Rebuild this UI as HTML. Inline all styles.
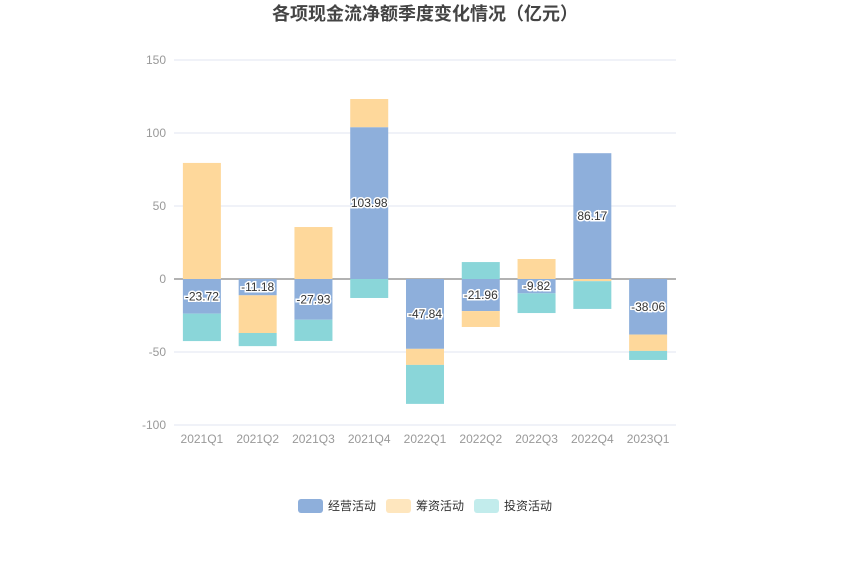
<!DOCTYPE html>
<html><head><meta charset="utf-8"><style>
body{margin:0;background:#fff;width:850px;height:576px;overflow:hidden;font-family:"Liberation Sans","Noto Sans CJK SC",sans-serif}
</style></head><body>
<svg id="chart" width="850" height="576" xmlns="http://www.w3.org/2000/svg" font-family="Liberation Sans, Noto Sans CJK SC, sans-serif">
<text x="425" y="20" text-anchor="middle" font-size="18" font-weight="bold" fill="#444">各项现金流净额季度变化情况（亿元）</text>
<g id="grid"></g><g id="bars"></g><g id="labels"></g>
<g id="legend"></g>
</svg>
<script>
const categories=["2021Q1","2021Q2","2021Q3","2021Q4","2022Q1","2022Q2","2022Q3","2022Q4","2023Q1"];
const operating=[-23.72,-11.18,-27.93,103.98,-47.84,-21.96,-9.82,86.17,-38.06];
const financing=[79.5,-25.8,35.6,19.3,-11,-10.9,13.7,-1.5,-11.2];
const investing=[-18.8,-9,-14.5,-13,-26.7,11.6,-13.5,-19,-6.2];
const yTicks=[150,100,50,0,-50,-100];
const seriesNames=["经营活动","筹资活动","投资活动"];
const colors=["#8eafdb","#fed89b","#8ad6d9"];
const legendColors=["#8eafdb","#fee6be","#c2ecec"];
const NS="http://www.w3.org/2000/svg";
const x0=174,x1=676,yTop=60,yBot=425,vMax=150,vMin=-100;
const y=v=>yTop+(vMax-v)/(vMax-vMin)*(yBot-yTop);
const band=(x1-x0)/categories.length;
const xc=i=>x0+band*(i+0.5);
function mk(tag,attrs,parent){const e=document.createElementNS(NS,tag);for(const k in attrs)e.setAttribute(k,attrs[k]);parent.appendChild(e);return e;}
const grid=document.getElementById('grid'),bars=document.getElementById('bars'),labels=document.getElementById('labels'),legend=document.getElementById('legend');
yTicks.forEach(t=>{
  const l=mk('line',{x1:x0,x2:x1,y1:y(t),y2:y(t),stroke:t===0?'#666':'#e0e6f1'},grid);
  
  
  const tx=mk('text',{x:x0-8,y:y(t)+4,'text-anchor':'end','font-size':12,fill:'#999'},grid);
  tx.textContent=t;
  
  
});
categories.forEach((c,i)=>{
  const tx=mk('text',{x:xc(i),y:y(-100)+18,'text-anchor':'middle','font-size':12,fill:'#999'},grid);
  tx.textContent=c;
  
  
});
const series=[operating,financing,investing];
const bw=38;
categories.forEach((c,i)=>{
  let pos=0,neg=0;
  series.forEach((s,k)=>{
    const v=s[i];let a,b;
    if(v>=0){a=pos;b=pos+v;pos=b;}else{a=neg;b=neg+v;neg=b;}
    const top=y(Math.max(a,b)),bot=y(Math.min(a,b));
    const r=mk('rect',{x:xc(i)-bw/2,y:top,width:bw,height:Math.max(bot-top,0.5),fill:colors[k]},bars);
    
    
  });
  const v=operating[i];
  const t=mk('text',{x:xc(i),y:y(v/2)+4,'text-anchor':'middle','font-size':12,fill:'#333',stroke:'#fff','stroke-width':3,'paint-order':'stroke'},labels);
  t.textContent=v.toFixed(2);
  
  
});
const lx=[298,386,474];
seriesNames.forEach((n,k)=>{
  const r=mk('rect',{x:lx[k],y:499,width:25,height:14,rx:3,fill:legendColors[k]},legend);
  
  
  const t=mk('text',{x:lx[k]+30,y:510,'font-size':12,fill:'#333'},legend);
  t.textContent=n;
  
  
});
</script>
</body></html>
